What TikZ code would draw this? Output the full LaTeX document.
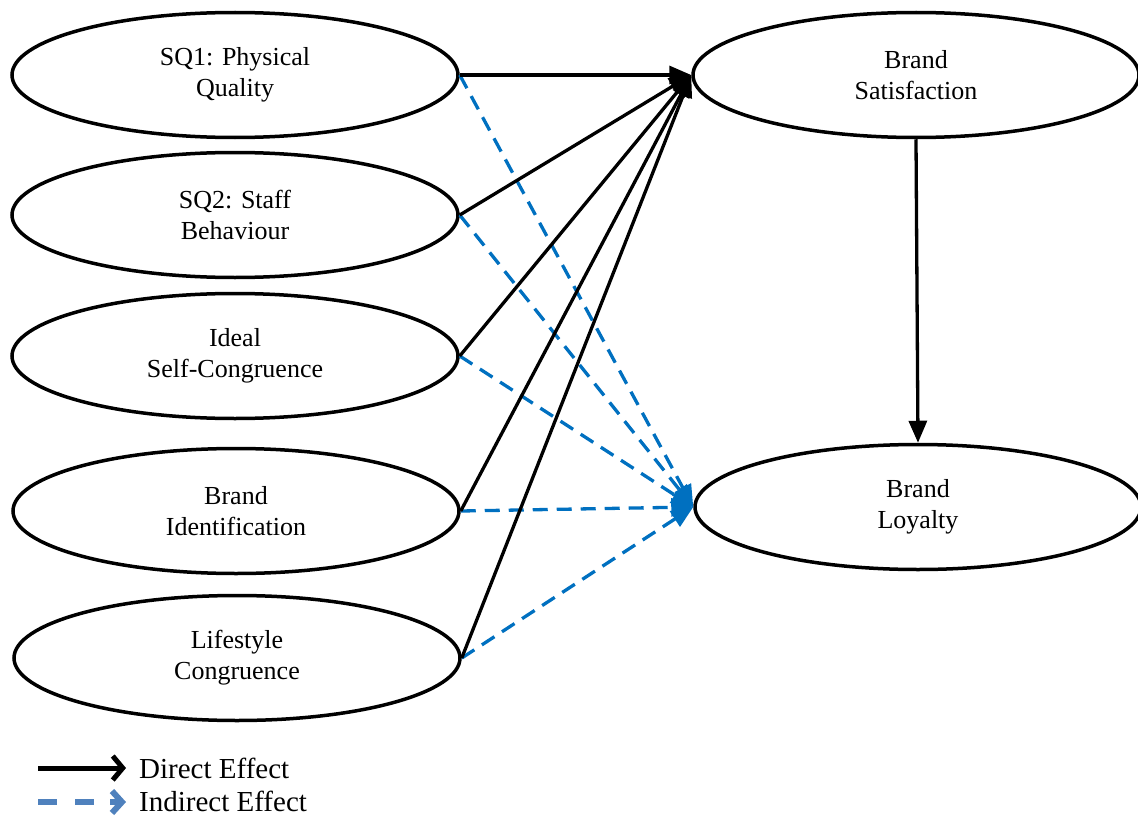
\documentclass[tikz,border=0pt]{standalone}
\usepackage{fontspec}
\setmainfont{Liberation Serif}
\usetikzlibrary{shapes.geometric,arrows.meta}
\definecolor{indblue}{RGB}{0,112,192}
\definecolor{legblue}{RGB}{79,129,189}
\tikzset{
  construct/.style={ellipse, draw=black, line width=3.5pt, minimum width=446pt, minimum height=125pt,
    inner sep=0pt, align=center, font=\fontsize{26}{31}\selectfont},
  direct/.style={line width=3.3pt, draw=black, -{Triangle[length=22pt,width=18pt]}},
  indirect/.style={line width=3.3pt, draw=indblue, dash pattern=on 15pt off 9pt,
    -{Triangle[length=22pt,width=18pt,fill=indblue]}},
  legtext/.style={anchor=west, font=\fontsize{29}{31}\selectfont, inner sep=0pt}
}
\begin{document}
\begin{tikzpicture}[x=1pt,y=-1pt]
\useasboundingbox (0,0) rectangle (1138,816);

% exogenous constructs
\node[construct] (sq1) at (235,75) {SQ1: Physical\\Quality};
\node[construct] (sq2) at (235,215) {SQ2: Staff\\Behaviour};
\node[construct] (isc) at (235,356) {Ideal\\Self-Congruence};
\node[construct] (bid) at (236,511) {Brand\\Identification};
\node[construct] (lsc) at (237,658) {Lifestyle\\Congruence};

% endogenous constructs
\node[construct] (sat) at (916,75) {Brand\\Satisfaction};
\node[construct] (loy) at (918,507) {Brand\\Loyalty};

% indirect paths (via satisfaction)
\foreach \s in {sq1,sq2,isc,bid,lsc}
  \draw[indirect] (\s.east) -- (loy.west);

% direct paths
\foreach \s in {sq1,sq2,isc,bid,lsc}
  \draw[direct] (\s.east) -- (sat.west);
\draw[direct] (sat.south) -- (loy.north);

% legend
\coordinate (la1) at (38,768);
\coordinate (lb1) at (126,768);
\coordinate (la2) at (38,802);
\coordinate (lm2) at (96,802);
\coordinate (lt2) at (110,802);
\coordinate (lb2) at (126,802);
\draw[line width=5pt, -{Straight Barb[length=10pt,width=24pt,line width=5pt]}] (la1) -- (lb1);
\draw[line width=6pt, draw=legblue, dash pattern=on 19pt off 18pt] (la2) -- (lm2);
\draw[line width=6pt, draw=legblue, solid,
  -{Straight Barb[length=10pt,width=22pt,line width=6pt]}] (lt2) -- (lb2);
\node[legtext] (ld) at (139,768) {Direct Effect};
\node[legtext] (li) at (139,801) {Indirect Effect};
\end{tikzpicture}
\end{document}
